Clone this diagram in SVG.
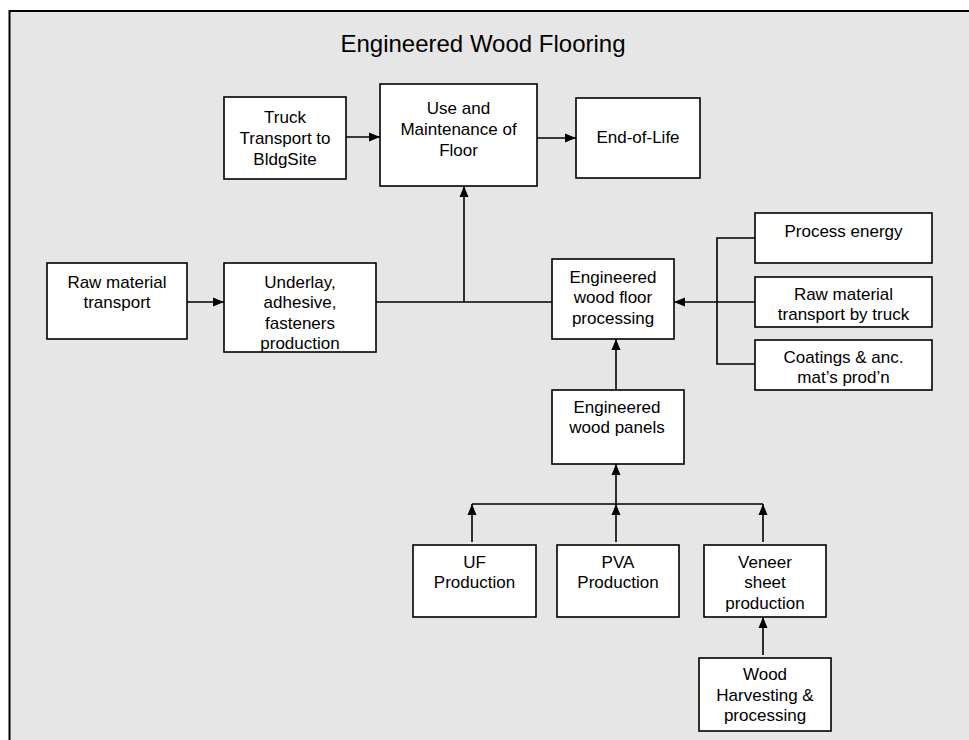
<svg xmlns="http://www.w3.org/2000/svg" width="969" height="740" viewBox="0 0 969 740">
<defs>
<style>
.box{fill:#fff;stroke:#000;stroke-width:1.6}
.t{font-family:"Liberation Sans",Arial,sans-serif;font-size:17px;fill:#000;text-anchor:middle}
.title{font-family:"Liberation Sans",Arial,sans-serif;font-size:24px;fill:#000;text-anchor:middle}
.c{fill:none;stroke:#000;stroke-width:1.6}
.a{marker-end:url(#arr)}
</style>
<marker id="arr" markerUnits="userSpaceOnUse" markerWidth="12" markerHeight="10" refX="11" refY="5" orient="auto">
<path d="M0,0.5 L11,5 L0,9.5 z" fill="#000"/>
</marker>
</defs>
<rect x="0" y="0" width="969" height="740" fill="#fff"/>
<rect x="9.5" y="11" width="1000" height="800" fill="#e6e6e6" stroke="#000" stroke-width="2"/>
<text class="title" x="483" y="52">Engineered Wood Flooring</text>

<g id="connectors">
<line class="c a" x1="346" y1="137" x2="380" y2="137"/>
<line class="c a" x1="537" y1="138" x2="576" y2="138"/>
<line class="c a" x1="187" y1="302" x2="224" y2="302"/>
<line class="c" x1="376" y1="302" x2="552" y2="302"/>
<line class="c a" x1="464" y1="302" x2="464" y2="186"/>
<polyline class="c" points="755,238 717,238 717,364 755,364"/>
<line class="c a" x1="755" y1="302" x2="674" y2="302"/>
<line class="c a" x1="616" y1="390" x2="616" y2="339"/>
<line class="c" x1="472" y1="504" x2="763" y2="504"/>
<line class="c a" x1="616" y1="504" x2="616" y2="464"/>
<line class="c a" x1="472" y1="542" x2="472" y2="504"/>
<line class="c a" x1="616" y1="542" x2="616" y2="504"/>
<line class="c a" x1="763" y1="542" x2="763" y2="504"/>
<line class="c a" x1="763" y1="655" x2="763" y2="617"/>
</g>

<g id="truck">
<rect class="box" x="224" y="97" width="122" height="82"/>
<text class="t" x="285" y="123">Truck</text>
<text class="t" x="285" y="144">Transport to</text>
<text class="t" x="285" y="165">BldgSite</text>
</g>
<g id="use">
<rect class="box" x="380" y="84" width="157" height="102"/>
<text class="t" x="458.5" y="114">Use and</text>
<text class="t" x="458.5" y="135">Maintenance of</text>
<text class="t" x="458.5" y="156">Floor</text>
</g>
<g id="eol">
<rect class="box" x="576" y="98" width="124" height="80"/>
<text class="t" x="638" y="143">End-of-Life</text>
</g>
<g id="rawtransport">
<rect class="box" x="47" y="263" width="140" height="76"/>
<text class="t" x="117" y="288">Raw material</text>
<text class="t" x="117" y="308">transport</text>
</g>
<g id="underlay">
<rect class="box" x="224" y="263" width="152" height="89"/>
<text class="t" x="300" y="288">Underlay,</text>
<text class="t" x="300" y="308">adhesive,</text>
<text class="t" x="300" y="329">fasteners</text>
<text class="t" x="300" y="349">production</text>
</g>
<g id="floorproc">
<rect class="box" x="552" y="259" width="122" height="80"/>
<text class="t" x="613" y="283">Engineered</text>
<text class="t" x="613" y="303">wood floor</text>
<text class="t" x="613" y="324">processing</text>
</g>
<g id="energy">
<rect class="box" x="755" y="213" width="177" height="50"/>
<text class="t" x="843.5" y="237">Process energy</text>
</g>
<g id="rawtruck">
<rect class="box" x="755" y="277" width="177" height="50"/>
<text class="t" x="843.5" y="300">Raw material</text>
<text class="t" x="843.5" y="320">transport by truck</text>
</g>
<g id="coatings">
<rect class="box" x="755" y="340" width="177" height="50"/>
<text class="t" x="843.5" y="363">Coatings &amp; anc.</text>
<text class="t" x="843.5" y="383">mat’s prod’n</text>
</g>
<g id="panels">
<rect class="box" x="552" y="390" width="132" height="74"/>
<text class="t" x="617" y="413">Engineered</text>
<text class="t" x="617" y="433">wood panels</text>
</g>
<g id="uf">
<rect class="box" x="413" y="545" width="123" height="72"/>
<text class="t" x="474.5" y="568">UF</text>
<text class="t" x="474.5" y="588">Production</text>
</g>
<g id="pva">
<rect class="box" x="557" y="545" width="122" height="72"/>
<text class="t" x="618" y="568">PVA</text>
<text class="t" x="618" y="588">Production</text>
</g>
<g id="veneer">
<rect class="box" x="704" y="545" width="122" height="72"/>
<text class="t" x="765" y="568">Veneer</text>
<text class="t" x="765" y="588">sheet</text>
<text class="t" x="765" y="609">production</text>
</g>
<g id="wood">
<rect class="box" x="699" y="658" width="132" height="73"/>
<text class="t" x="765" y="680">Wood</text>
<text class="t" x="765" y="701">Harvesting &amp;</text>
<text class="t" x="765" y="721">processing</text>
</g>
</svg>
